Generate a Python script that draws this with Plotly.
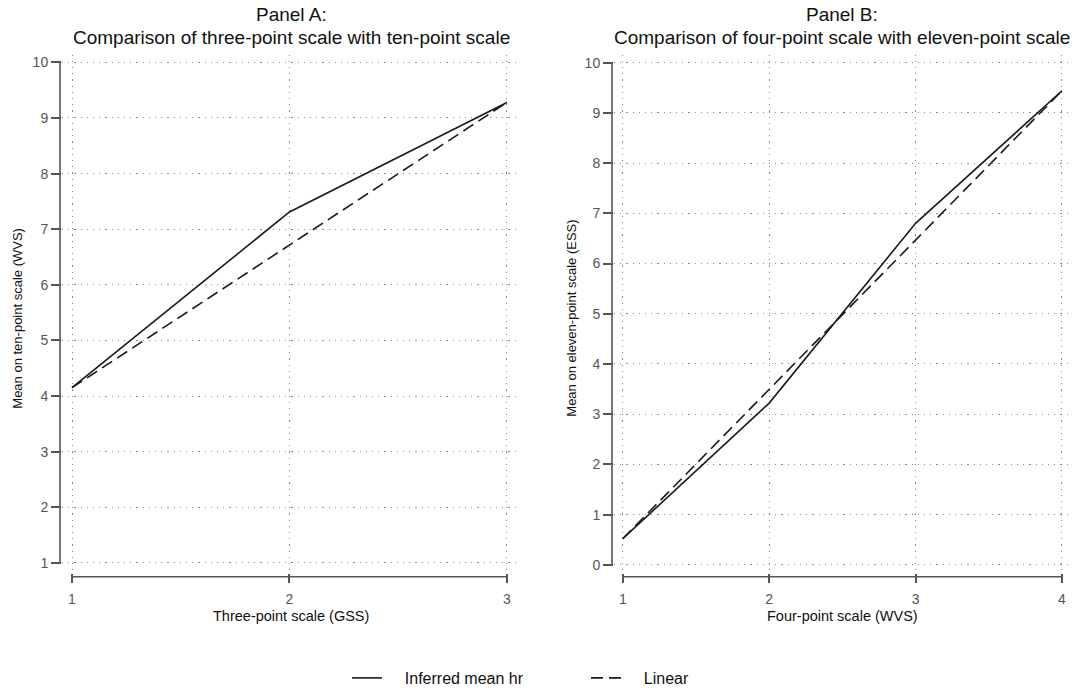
import plotly.graph_objects as go

# Panel A data
a_x = [1, 2, 3]
a_inferred = [4.15, 7.31, 9.28]
a_linear = [4.15, 6.715, 9.28]

# Panel B data
b_x = [1, 2, 3, 4]
b_inferred = [0.52, 3.22, 6.80, 9.44]
b_linear = [0.52, 3.493, 6.467, 9.44]

a_yticks = list(range(1, 11))
b_yticks = list(range(0, 11))

FONT = "Liberation Sans, Arial, Helvetica, sans-serif"
LINE_COLOR = "#1a1a1a"
AXIS_COLOR = "#555555"
GRID_COLOR = "#8a8a8a"
TICK_FONT = dict(family=FONT, size=14, color="#555555")

W, H = 1083, 695
# plot area positions (pixels)
A_L, A_R = 62, 520
B_L, B_R = 614, 1070
P_T, P_B = 55, 577

PAD = "\u00a0\u00a0\u00a0\u00a0"

fig = go.Figure()

fig.add_trace(go.Scatter(x=a_x, y=a_inferred, mode="lines", name=PAD + "Inferred mean hr",
                         line=dict(color=LINE_COLOR, width=1.6), xaxis="x", yaxis="y",
                         legendgroup="inf"))
fig.add_trace(go.Scatter(x=a_x, y=a_linear, mode="lines", name=PAD + "Linear",
                         line=dict(color=LINE_COLOR, width=1.6, dash="12px,6px"),
                         xaxis="x", yaxis="y", legendgroup="lin"))
fig.add_trace(go.Scatter(x=b_x, y=b_inferred, mode="lines", name="Inferred mean hr",
                         line=dict(color=LINE_COLOR, width=1.6), xaxis="x2", yaxis="y2",
                         legendgroup="inf", showlegend=False))
fig.add_trace(go.Scatter(x=b_x, y=b_linear, mode="lines", name="Linear",
                         line=dict(color=LINE_COLOR, width=1.6, dash="12px,6px"),
                         xaxis="x2", yaxis="y2", legendgroup="lin", showlegend=False))

ydom = [1 - P_B / H, 1 - P_T / H]

common_axis = dict(showline=False, zeroline=False, showgrid=True, gridcolor=GRID_COLOR,
                   griddash="1.2px,5px", gridwidth=1.2, ticks="outside", tickcolor=AXIS_COLOR,
                   tickwidth=1.5, tickfont=TICK_FONT, fixedrange=True)

fig.update_layout(
    width=W, height=H, autosize=False,
    margin=dict(l=0, r=0, t=0, b=0),
    paper_bgcolor="white", plot_bgcolor="white",
    font=dict(family=FONT, color="#111111"),
    xaxis=dict(domain=[A_L / W, A_R / W], range=[0.954, 3.06], tickvals=a_x,
               ticklen=9, ticklabelstandoff=4, anchor="y", **common_axis),
    yaxis=dict(domain=ydom, range=[0.82, 10.14], tickvals=a_yticks, ticklen=10,
               anchor="x", **common_axis),
    xaxis2=dict(domain=[B_L / W, B_R / W], range=[0.94, 4.055], tickvals=b_x,
                ticklen=9, ticklabelstandoff=4, anchor="y2", **common_axis),
    yaxis2=dict(domain=ydom, range=[-0.16, 10.16], tickvals=b_yticks, ticklen=10,
                anchor="x2", **common_axis),
    showlegend=True,
    legend=dict(orientation="h", x=347 / W, xanchor="left", y=1 - 683 / H, yanchor="middle",
                font=dict(family=FONT, size=16, color="#111111"), entrywidth=194,
                bgcolor="rgba(0,0,0,0)"),
)

# offset axis lines (Stata-style)
shapes = []
for xr, yr, xs, ys, left_px, w in [("x", "y", a_x, a_yticks, A_L, A_R - A_L),
                                    ("x2", "y2", b_x, b_yticks, B_L, B_R - B_L)]:
    shapes.append(dict(type="line", xref=f"{xr} domain", yref=yr,
                       x0=-2 / w, x1=-2 / w, y0=ys[0], y1=ys[-1],
                       line=dict(color=AXIS_COLOR, width=1.6)))
    shapes.append(dict(type="line", xref=xr, yref=f"{yr} domain",
                       x0=xs[0], x1=xs[-1], y0=-4 / (P_B - P_T), y1=-4 / (P_B - P_T),
                       line=dict(color=AXIS_COLOR, width=1.6)))
fig.update_layout(shapes=shapes)

TITLE_FONT = dict(family=FONT, size=19, color="#111111")
ann = []
for cx, l1, l2 in [((A_L + A_R) / 2, "Panel A:", "Comparison of three-point scale with ten-point scale"),
                   ((B_L + B_R) / 2, "Panel B:", "Comparison of four-point scale with eleven-point scale")]:
    ann.append(dict(x=cx / W, y=1 - 15 / H, xref="paper", yref="paper", text=l1, showarrow=False,
                    xanchor="center", yanchor="middle", font=TITLE_FONT))
    ann.append(dict(x=cx / W, y=1 - 38 / H, xref="paper", yref="paper", text=l2, showarrow=False,
                    xanchor="center", yanchor="middle", font=TITLE_FONT))

XT_FONT = dict(family=FONT, size=14.5, color="#111111")
YT_FONT = dict(family=FONT, size=13, color="#111111")
ann.append(dict(x=(A_L + A_R) / 2 / W, y=1 - 620 / H, xref="paper", yref="paper",
                text="Three-point scale (GSS)", showarrow=False, xanchor="center", yanchor="middle",
                font=XT_FONT))
ann.append(dict(x=(B_L + B_R) / 2 / W, y=1 - 620 / H, xref="paper", yref="paper",
                text="Four-point scale (WVS)", showarrow=False, xanchor="center", yanchor="middle",
                font=XT_FONT))
ann.append(dict(x=18 / W, y=1 - 321 / H, xref="paper", yref="paper", textangle=-90,
                text="Mean on ten-point scale (WVS)", showarrow=False, xanchor="center", yanchor="middle",
                font=YT_FONT))
ann.append(dict(x=572 / W, y=1 - 321 / H, xref="paper", yref="paper", textangle=-90,
                text="Mean on eleven-point scale (ESS)", showarrow=False, xanchor="center", yanchor="middle",
                font=YT_FONT))
fig.update_layout(annotations=ann)

fig.write_html("out.html")
